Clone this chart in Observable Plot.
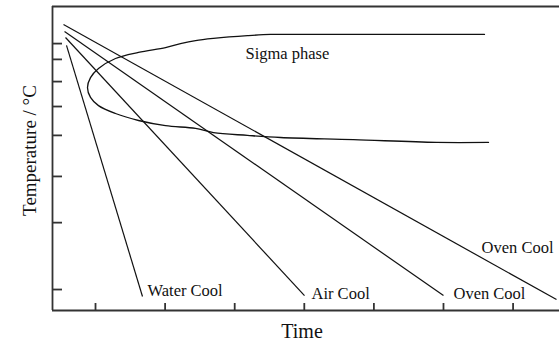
<!DOCTYPE html>
<html>
<head>
<meta charset="utf-8">
<script src="https://cdn.jsdelivr.net/npm/d3@7"></script>
<script src="https://cdn.jsdelivr.net/npm/@observablehq/plot@0.6"></script>
<style>
  html, body { margin: 0; padding: 0; background: #fff; }
  #chart svg { display: block; }
</style>
</head>
<body>
<div id="chart"></div>
<script>
// Schematic cooling curves crossing the sigma-phase C-curve (arbitrary units)
const curveNames = ["Water Cool", "Air Cool", "Oven Cool", "Oven Cool"];
const startTime = [0.583, 0.569, 0.555, 0.540];
const startTemp = [872, 898, 918, 941];
const endTime = [1.675, 4.003, 6.0, 7.624];
const endTemp = [46, 49, 49, 36];

// Sigma-phase precipitation boundary, upper branch -> nose -> lower branch
const sigmaTime = [6.589, 3.945, 3.514, 3.184, 2.695, 2.437, 2.221, 2.006, 1.618, 1.287, 1.043, 0.928, 0.885,
                   0.928, 1.043, 1.287, 1.618, 2.006, 2.437, 2.695, 3.184, 3.658, 4.707, 5.899, 6.647];
const sigmaTemp = [908, 908, 908, 904, 895, 888, 878, 865, 849, 829, 796, 766, 733,
                   701, 674, 648, 625, 608, 599, 585, 576, 569, 562, 553, 553];
const sigmaLabel = ["Sigma phase"];
const sigmaLabelTime = [3.155];
const sigmaLabelTemp = [845];

// Unlabelled ticks
const timeTicks = [1, 2, 3, 4, 5, 6, 7];
const tempTicks = [878, 826, 753, 671, 576, 441, 289, 69];

const xDomain = [0.382, 7.667];
const yDomain = [0, 1000];

const ink = "#111";
const axisInk = "#333";

// label offsets from each curve's end point
const labelPlacement = [
  {dx: 5, dy: -6, anchor: "start"},
  {dx: 7, dy: -2, anchor: "start"},
  {dx: 10, dy: -2, anchor: "start"},
  {dx: -3, dy: -52, anchor: "end"}
];

const idx = d3.range(curveNames.length);
const sIdx = d3.range(sigmaTime.length);

const curveLabels = idx.map(i => Plot.text([i], {
  x: j => endTime[j], y: j => endTemp[j], text: j => curveNames[j],
  dx: labelPlacement[i].dx, dy: labelPlacement[i].dy,
  textAnchor: labelPlacement[i].anchor, fill: ink, fontSize: 16.5
}));

const chart = Plot.plot({
  width: 559,
  height: 341,
  marginLeft: 52,
  marginRight: 0,
  marginTop: 6,
  marginBottom: 31,
  x: {domain: xDomain},
  y: {domain: yDomain},
  style: {fontFamily: "'Liberation Serif', 'Times New Roman', serif", fontSize: "16.5px", color: ink, background: "#fff"},
  marks: [
    Plot.ruleX([xDomain[0]], {stroke: axisInk, strokeWidth: 1.8}),
    Plot.ruleY(yDomain, {stroke: axisInk, strokeWidth: 1.8}),
    Plot.axisY(tempTicks, {anchor: "left", tickSize: -10, text: null, label: null, stroke: axisInk, strokeWidth: 1.8}),
    Plot.axisX(timeTicks, {anchor: "bottom", tickSize: -7, text: null, label: null, stroke: axisInk, strokeWidth: 1.8}),
    Plot.link(idx, {
      x1: i => startTime[i], y1: i => startTemp[i],
      x2: i => endTime[i], y2: i => endTemp[i],
      stroke: ink, strokeWidth: 1.2
    }),
    Plot.line(sIdx, {x: i => sigmaTime[i], y: i => sigmaTemp[i], curve: "catmull-rom", stroke: ink, strokeWidth: 1.3}),
    Plot.text(sigmaLabel, {x: (d, i) => sigmaLabelTime[i], y: (d, i) => sigmaLabelTemp[i], text: d => d, textAnchor: "start", fill: ink, fontSize: 16.5}),
    ...curveLabels,
    Plot.text(["Temperature / °C"], {frameAnchor: "left", textAnchor: "middle", lineAnchor: "middle", rotate: -90, dx: -23, dy: -8, fill: ink, fontSize: 19}),
    Plot.text(["Time"], {frameAnchor: "bottom", textAnchor: "middle", lineAnchor: "middle", dx: -4, dy: 21, fill: ink, fontSize: 20})
  ]
});

document.getElementById("chart").append(chart);
</script>
</body>
</html>
